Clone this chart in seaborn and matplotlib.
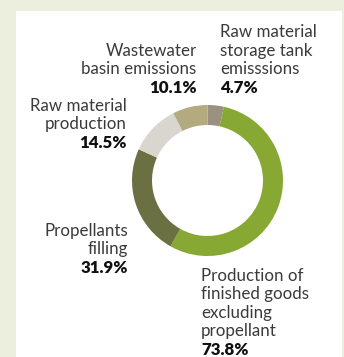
import matplotlib
matplotlib.use("Agg")
import matplotlib.pyplot as plt
from matplotlib.patches import Rectangle
import seaborn as sns

# Emission sources (clockwise from 12 o'clock) and their shares
categories = [
    "Raw material\nstorage tank\nemisssions",
    "Production of\nfinished goods\nexcluding\npropellant",
    "Propellants\nfilling",
    "Raw material\nproduction",
    "Wastewater\nbasin emissions",
]
shares = [4.7, 73.8, 31.9, 14.5, 10.1]
value_labels = ["4.7%", "73.8%", "31.9%", "14.5%", "10.1%"]
colors = ["#9a9181", "#87a832", "#6a7041", "#d8d6cf", "#b3aa80"]

sns.set_theme(style="white")
plt.rcParams["font.family"] = ["Lato", "DejaVu Sans"]

W, H = 344, 357
fig = plt.figure(figsize=(W / 100, H / 100), dpi=100)
fig.patch.set_facecolor("#ecefdd")

# white content panel, kept behind the donut
panel = Rectangle((16 / W, 0), (342 - 16) / W, (H - 11) / H,
                  transform=fig.transFigure, facecolor="white",
                  edgecolor="none", zorder=-5)
fig.add_artist(panel)

# donut
cx, cy, r = 207.5, 180.5, 75.5
ax = fig.add_axes([(cx - r) / W, 1 - (cy + r) / H, 2 * r / W, 2 * r / H])
ax.set_zorder(2)
ax.set_facecolor("none")
ax.pie(shares, colors=sns.color_palette(colors), startangle=90,
       counterclock=False, radius=1.0,
       wedgeprops=dict(width=0.265, edgecolor="none"))
ax.set_xlim(-1, 1)
ax.set_ylim(-1, 1)
ax.axis("off")

# label blocks: (category index, x, ha, baseline of the value line)
placements = [
    (0, 220.5, "left", 93),
    (1, 201, "left", 355),
    (2, 128, "right", 273),
    (3, 127, "right", 148),
    (4, 196.5, "right", 93),
]
step = 18.6
fs = 12.2
for idx, x, ha, base in placements:
    lines = categories[idx].split("\n")
    n = len(lines)
    for i, line in enumerate(lines):
        y = base - (n - i) * step
        fig.text(x / W, 1 - y / H, line, ha=ha, va="baseline",
                 fontsize=fs, fontweight="normal", color="#3a3a3a", zorder=3)
    fig.text(x / W, 1 - base / H, value_labels[idx], ha=ha, va="baseline",
             fontsize=fs, fontweight="heavy", color="#111111", zorder=3)

fig.savefig("out.png", dpi=100, facecolor=fig.get_facecolor())
